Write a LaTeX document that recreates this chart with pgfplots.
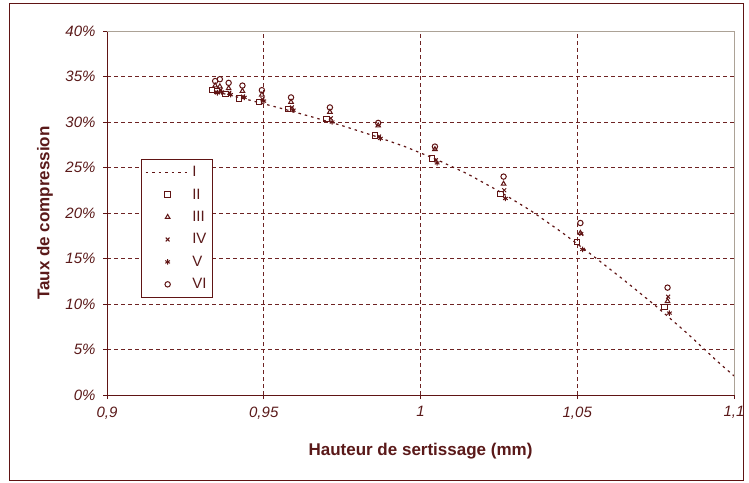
\documentclass[border=0pt]{standalone}
\usepackage{fontspec}
\setmainfont{Liberation Sans}
\usepackage{pgfplots}
\pgfplotsset{compat=1.18}
\definecolor{brun}{RGB}{96,20,20}
\definecolor{texte}{RGB}{90,25,25}
\definecolor{grille}{RGB}{110,35,35}
\definecolor{bord}{RGB}{172,162,150}

\begin{document}
\begin{tikzpicture}
\path[use as bounding box] (-107pt,-87pt) rectangle (642pt,395pt);
\draw[brun, line width=1pt] (-97pt,-85pt) rectangle (636pt,391pt);
\begin{axis}[
    scale only axis, width=627pt, height=364pt,
    xmin=0.9, xmax=1.1, ymin=0, ymax=40,
    axis lines*=left,
    axis line style={brun, line width=0.9pt},
    tick align=outside, major tick length=4pt,
    tick style={brun, line width=0.8pt},
    xtick={0.9,0.95,1,1.05,1.1},
    xticklabels={{0,9},{0,95},{1},{1,05},{1,1}},
    ytick={0,5,...,40},
    yticklabels={0\%,5\%,10\%,15\%,20\%,25\%,30\%,35\%,40\%},
    ticklabel style={font=\fontsize{15}{18}\selectfont\itshape, text=texte},
    xticklabel style={yshift=-4pt},
    yticklabel style={xshift=-4pt},
    grid=major,
    major grid style={grille, dash pattern=on 4pt off 3pt, line width=0.9pt},
    every axis x label/.style={at={(axis description cs:0.5,-0.154)}, anchor=center},
    every axis y label/.style={at={(axis description cs:-0.099,0.5)}, rotate=90, anchor=center},
    label style={font=\fontsize{17}{20}\selectfont\bfseries, text=texte},
    xlabel={Hauteur de sertissage (mm)},
    ylabel={Taux de compression},
    legend style={at={(0.054,0.648)}, anchor=north west, draw=brun, fill=white,
        font=\fontsize{15}{18}\selectfont, text=texte, row sep=6.6pt,
        inner xsep=4pt, inner ysep=5pt, cells={anchor=west}},
    legend image code/.code={\draw[mark repeat=2,mark phase=2,#1] plot coordinates {(0pt,0pt) (22pt,0pt) (44pt,0pt)};},
    every axis plot/.append style={brun},
    mark size=2.7pt,
    clip=false,
]
% I : courbe
\addplot[brun, line width=1.2pt, dash pattern=on 2.5pt off 4pt, mark=none] coordinates {
(0.935,33.3) (0.945,32.45) (0.955,31.55) (0.965,30.6) (0.975,29.6) (0.985,28.5)
(0.995,27.3) (1.005,25.9) (1.015,24.3) (1.025,22.4) (1.035,20.3) (1.045,17.9)
(1.055,15.3) (1.065,12.6) (1.075,9.8) (1.085,6.8) (1.095,3.6) (1.1,2.1)};
% II
\addplot[only marks, mark=square, line width=1pt] coordinates {
(0.9335,33.5) (0.9350,33.4) (0.9378,33.1) (0.9422,32.6) (0.9484,32.2) (0.9577,31.4)
(0.9700,30.3) (0.9855,28.5) (1.0036,26.0) (1.0255,22.1) (1.0500,16.8) (1.0778,9.7)};
% III
\addplot[only marks, mark=triangle, line width=1pt] coordinates {
(0.9345,34.0) (0.9360,33.9) (0.9388,33.7) (0.9432,33.4) (0.9494,33.0) (0.9587,32.2)
(0.9711,31.1) (0.9865,29.6) (1.0046,27.0) (1.0265,23.2) (1.0510,17.8) (1.0788,10.3)};
% IV
\addplot[only marks, mark=x, line width=1pt] coordinates {
(0.9348,33.3) (0.9362,33.5) (0.9390,33.2) (0.9434,32.8) (0.9496,32.5) (0.9590,31.6)
(0.9714,30.4) (0.9868,28.4) (1.0049,25.8) (1.0267,22.5) (1.0513,17.7) (1.0790,10.8)};
% V
\addplot[only marks, mark=asterisk, line width=1pt] coordinates {
(0.9352,33.2) (0.9366,33.3) (0.9394,33.0) (0.9438,32.7) (0.9500,32.3) (0.9594,31.3)
(0.9718,30.0) (0.9872,28.2) (1.0053,25.5) (1.0271,21.6) (1.0517,16.0) (1.0794,9.0)};
% VI
\addplot[only marks, mark=o, line width=1pt] coordinates {
(0.9345,34.5) (0.9360,34.7) (0.9388,34.3) (0.9432,34.0) (0.9494,33.5) (0.9587,32.7)
(0.9711,31.6) (0.9865,29.9) (1.0046,27.3) (1.0265,24.0) (1.0510,18.9) (1.0788,11.8)};
\legend{I,II,III,IV,V,VI}
\draw[bord, line width=1pt] (rel axis cs:0,1) -- (rel axis cs:1,1) -- (rel axis cs:1,0);
\end{axis}
\end{tikzpicture}
\end{document}
